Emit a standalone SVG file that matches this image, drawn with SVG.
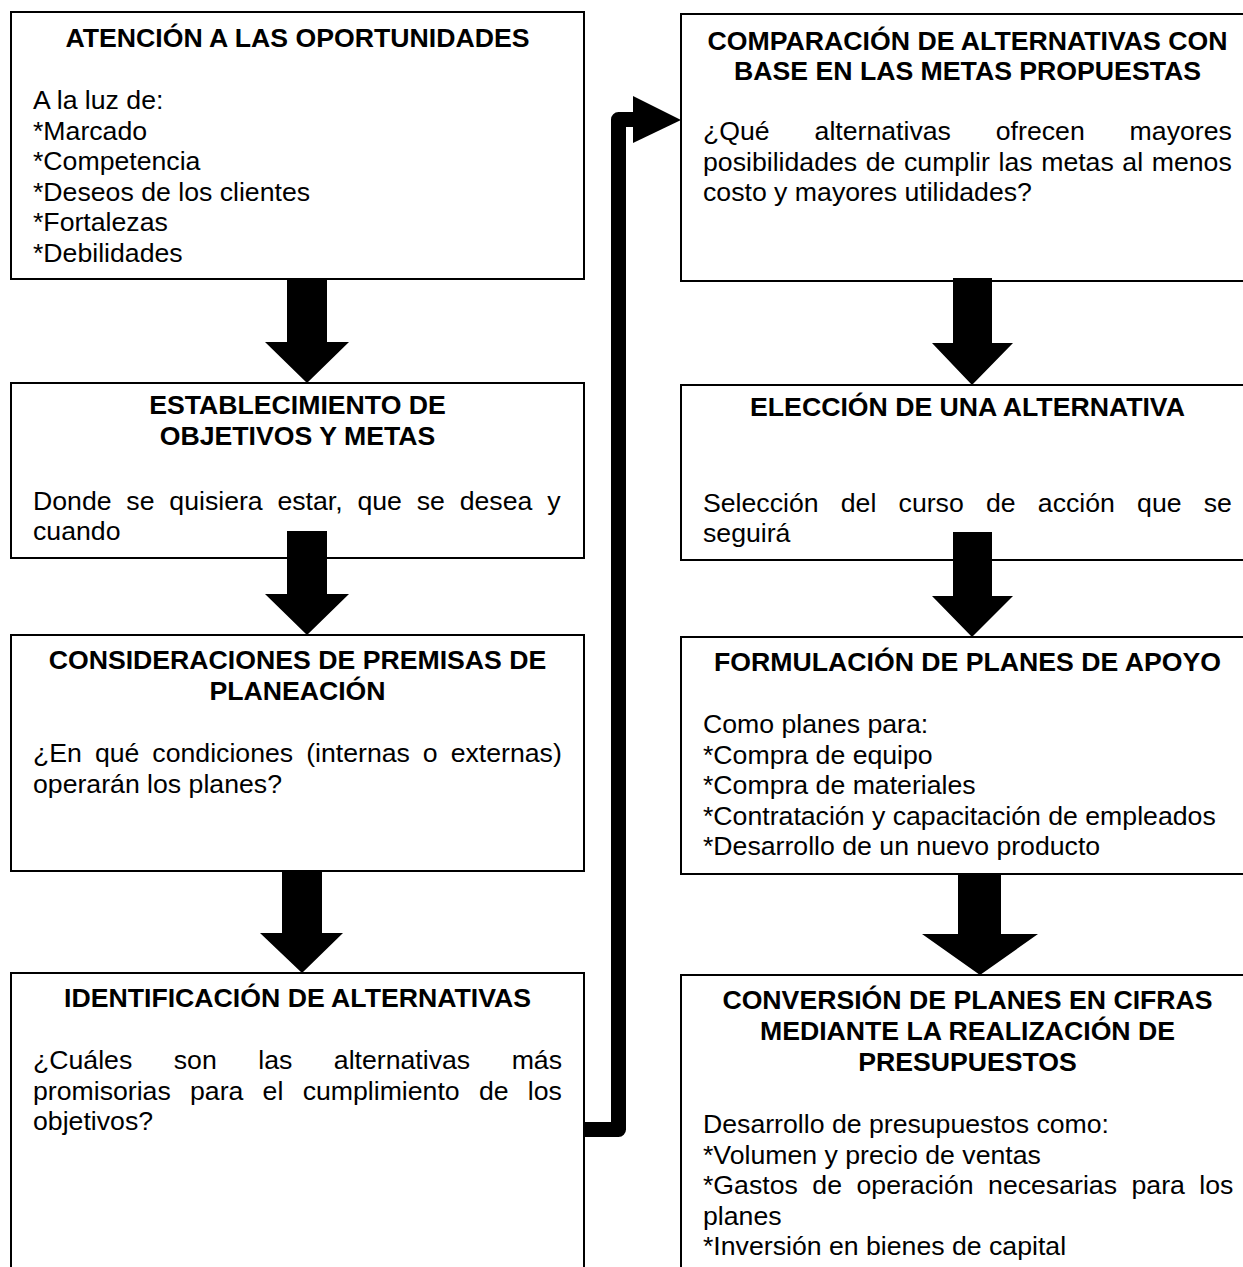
<svg xmlns="http://www.w3.org/2000/svg" width="1243" height="1267" viewBox="0 0 1243 1267">
  <style>
    .box { fill: #ffffff; stroke: #000000; stroke-width: 2; }
    .h { font-family: "Liberation Sans", Arial, sans-serif; font-size: 26.67px; font-weight: bold; text-anchor: middle; fill: #000; }
    .b { font-family: "Liberation Sans", Arial, sans-serif; font-size: 26.67px; fill: #000; }
    .arrow { fill: #000000; stroke: none; }
    .elbow { fill: none; stroke: #000000; stroke-width: 15; stroke-linejoin: round; }
  </style>
  <rect width="1243" height="1267" fill="#ffffff"/>

  <!-- left column -->
  <g id="atencion">
    <rect class="box" x="11" y="12" width="573" height="267"/>
    <text class="h" x="297.5" y="46.5">ATENCIÓN A LAS OPORTUNIDADES</text>
    <text class="b" x="33" y="109">A la luz de:</text>
    <text class="b" x="33" y="139.5">*Marcado</text>
    <text class="b" x="33" y="170">*Competencia</text>
    <text class="b" x="33" y="200.5">*Deseos de los clientes</text>
    <text class="b" x="33" y="231">*Fortalezas</text>
    <text class="b" x="33" y="261.5">*Debilidades</text>
  </g>

  <g id="objetivos">
    <rect class="box" x="11" y="383" width="573" height="175"/>
    <text class="h" x="297.5" y="414">ESTABLECIMIENTO DE</text>
    <text class="h" x="297.5" y="445">OBJETIVOS Y METAS</text>
    <text class="b" x="33" y="509.5" word-spacing="7.4">Donde se quisiera estar, que se desea y</text>
    <text class="b" x="33" y="540">cuando</text>
  </g>

  <g id="premisas">
    <rect class="box" x="11" y="635" width="573" height="236"/>
    <text class="h" x="297.5" y="669">CONSIDERACIONES DE PREMISAS DE</text>
    <text class="h" x="297.5" y="700">PLANEACIÓN</text>
    <text class="b" x="33" y="762" word-spacing="5.6">¿En qué condiciones (internas o externas)</text>
    <text class="b" x="33" y="792.5">operarán los planes?</text>
  </g>

  <g id="alternativas">
    <rect class="box" x="11" y="973" width="573" height="310"/>
    <text class="h" x="297.5" y="1007">IDENTIFICACIÓN DE ALTERNATIVAS</text>
    <text class="b" x="33" y="1069" word-spacing="34.1">¿Cuáles son las alternativas más</text>
    <text class="b" x="33" y="1099.5" word-spacing="11.85">promisorias para el cumplimiento de los</text>
    <text class="b" x="33" y="1130">objetivos?</text>
  </g>

  <!-- right column -->
  <g id="comparacion">
    <rect class="box" x="681" y="14" width="573" height="267"/>
    <text class="h" x="967.5" y="50">COMPARACIÓN DE ALTERNATIVAS CON</text>
    <text class="h" x="967.5" y="80">BASE EN LAS METAS PROPUESTAS</text>
    <text class="b" x="703" y="140" word-spacing="37.5">¿Qué alternativas ofrecen mayores</text>
    <text class="b" x="703" y="170.5" word-spacing="1.2">posibilidades de cumplir las metas al menos</text>
    <text class="b" x="703" y="201">costo y mayores utilidades?</text>
  </g>

  <g id="eleccion">
    <rect class="box" x="681" y="385" width="573" height="175"/>
    <text class="h" x="967.5" y="416">ELECCIÓN DE UNA ALTERNATIVA</text>
    <text class="b" x="703" y="511.5" word-spacing="14.8">Selección del curso de acción que se</text>
    <text class="b" x="703" y="542">seguirá</text>
  </g>

  <g id="planes-apoyo">
    <rect class="box" x="681" y="637" width="573" height="237"/>
    <text class="h" x="967.5" y="671">FORMULACIÓN DE PLANES DE APOYO</text>
    <text class="b" x="703" y="733">Como planes para:</text>
    <text class="b" x="703" y="763.5">*Compra de equipo</text>
    <text class="b" x="703" y="794">*Compra de materiales</text>
    <text class="b" x="703" y="824.5">*Contratación y capacitación de empleados</text>
    <text class="b" x="703" y="855">*Desarrollo de un nuevo producto</text>
  </g>

  <g id="presupuestos">
    <rect class="box" x="681" y="975" width="573" height="310"/>
    <text class="h" x="967.5" y="1009">CONVERSIÓN DE PLANES EN CIFRAS</text>
    <text class="h" x="967.5" y="1040">MEDIANTE LA REALIZACIÓN DE</text>
    <text class="h" x="967.5" y="1071">PRESUPUESTOS</text>
    <text class="b" x="703" y="1133">Desarrollo de presupuestos como:</text>
    <text class="b" x="703" y="1163.5">*Volumen y precio de ventas</text>
    <text class="b" x="703" y="1194" word-spacing="7.1">*Gastos de operación necesarias para los</text>
    <text class="b" x="703" y="1224.5">planes</text>
    <text class="b" x="703" y="1255">*Inversión en bienes de capital</text>
  </g>

  <!-- block arrows and the elbow link between columns -->
  <g id="connectors">
    <polygon class="arrow" points="287,279 327,279 327,342 349,342 307,383 265,342 287,342"/>
    <polygon class="arrow" points="287,531 327,531 327,594 349,594 307,635 265,594 287,594"/>
    <polygon class="arrow" points="282,871 322,871 322,933 343,933 302,973 260,933 282,933"/>

    <polygon class="arrow" points="953,278 992,278 992,343 1013,343 972,385 932,343 953,343"/>
    <polygon class="arrow" points="953,532 992,532 992,596 1013,596 972,637 932,596 953,596"/>
    <polygon class="arrow" points="958,874 1001,874 1001,934 1038,934 980,975 922,934 958,934"/>

    <path class="elbow" d="M583,1129.5 H618.5 V119.5 H640"/>
    <polygon class="arrow" points="633,96 681,120 633,143"/>
  </g>
</svg>
